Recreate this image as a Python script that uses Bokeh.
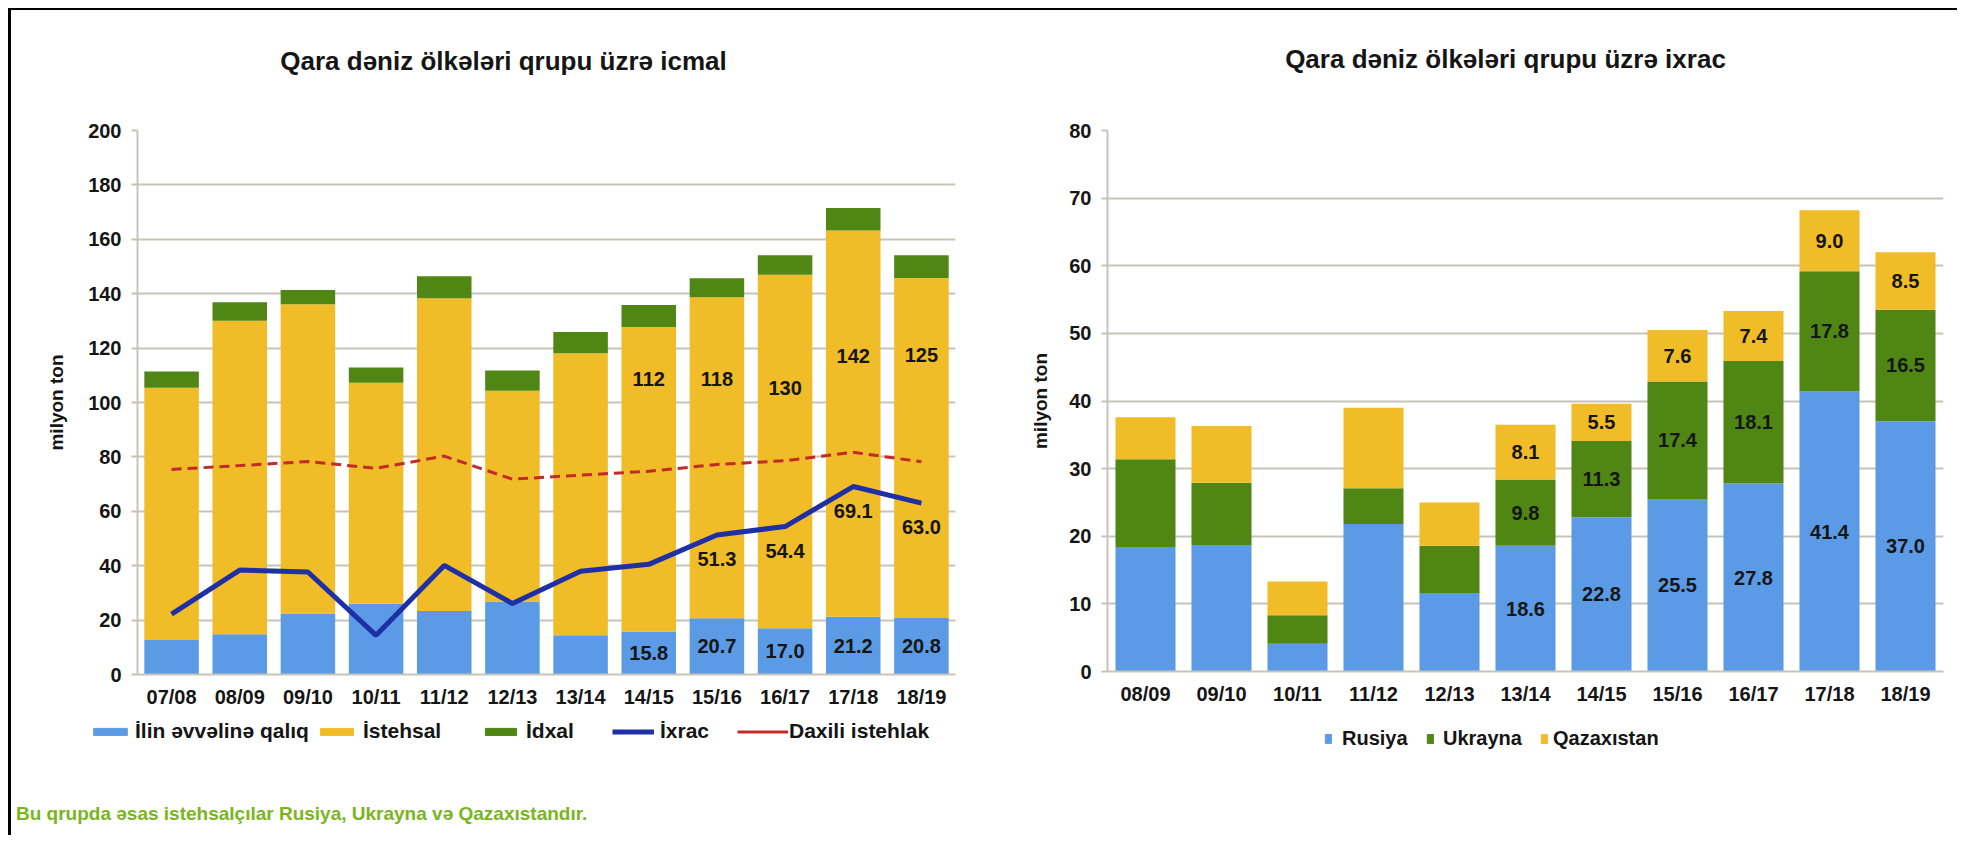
from bokeh.plotting import figure
from bokeh.models import (ColumnDataSource, Legend, LegendItem, Div,
                          SingleIntervalTicker, Range1d)
from bokeh.layouts import row, column
from bokeh.embed import file_html
from bokeh.resources import INLINE
from bokeh.core.properties import value

FONT = "Liberation Sans"

# ---------------- data: left chart (group balance) ----------------
seasons_group = ["07/08", "08/09", "09/10", "10/11", "11/12", "12/13",
                 "13/14", "14/15", "15/16", "16/17", "17/18", "18/19"]
opening_stocks = [12.7, 14.8, 22.4, 26.0, 23.3, 26.8, 14.4, 15.8, 20.7, 17.0, 21.2, 20.8]
production = [92.7, 115.3, 113.7, 81.3, 115.0, 77.5, 103.7, 112, 118, 130, 142, 125]
imports = [6.0, 6.8, 5.3, 5.6, 8.1, 7.5, 7.8, 8.0, 7.0, 7.1, 8.3, 8.3]
exports = [22.2, 38.4, 37.7, 14.4, 40.1, 26.1, 38.0, 40.5, 51.3, 54.4, 69.1, 63.0]
consumption = [75.4, 76.8, 78.3, 75.8, 80.3, 71.8, 73.3, 74.7, 77.2, 78.6, 81.7, 78.2]
# which seasons carry value labels
stock_labelled = ["14/15", "15/16", "16/17", "17/18", "18/19"]
export_labelled = ["15/16", "16/17", "17/18", "18/19"]
# anchor heights (data units) of the production labels
prod_label_at = [108.5, 108.5, 105.4, 117.0, 117.4]

# ---------------- data: right chart (exports by country) ----------------
seasons_exp = ["08/09", "09/10", "10/11", "11/12", "12/13", "13/14",
               "14/15", "15/16", "16/17", "17/18", "18/19"]
russia = [18.4, 18.7, 4.1, 21.8, 11.6, 18.6, 22.8, 25.5, 27.8, 41.4, 37.0]
ukraine = [13.0, 9.2, 4.2, 5.3, 7.0, 9.8, 11.3, 17.4, 18.1, 17.8, 16.5]
kazakhstan = [6.2, 8.4, 5.0, 11.9, 6.4, 8.1, 5.5, 7.6, 7.4, 9.0, 8.5]
exp_labelled = ["13/14", "14/15", "15/16", "16/17", "17/18", "18/19"]

# ---------------- styles ----------------
BLUE = "#5B9BE6"
YELLOW = "#F0BC27"
GREEN = "#4F8614"
NAVY = "#1F2FA5"
RED = "#C32A2A"
GRID = "#C8C3B8"
TXT = "#151515"
FOOT = "#7AB51D"


def style_axes(p, step, label_standoff):
    tick = SingleIntervalTicker(interval=step)
    p.yaxis.ticker = tick
    p.ygrid.ticker = tick
    p.xgrid.grid_line_color = None
    p.ygrid.grid_line_color = GRID
    p.ygrid.grid_line_width = 2
    p.axis.axis_line_color = GRID
    p.axis.axis_line_width = 2
    p.yaxis.major_tick_line_color = GRID
    p.yaxis.major_tick_line_width = 2
    p.yaxis.major_tick_out = 6
    p.yaxis.major_tick_in = 0
    p.xaxis.major_tick_line_color = None
    p.xaxis.major_tick_out = 0
    p.xaxis.major_tick_in = 0
    p.axis.minor_tick_line_color = None
    p.axis.major_label_text_font = FONT
    p.axis.major_label_text_font_style = "bold"
    p.axis.major_label_text_font_size = "20px"
    p.axis.major_label_text_color = TXT
    p.xaxis.major_label_standoff = 11
    p.yaxis.major_label_standoff = 10
    p.yaxis.axis_label = "milyon ton"
    p.yaxis.axis_label_text_font = FONT
    p.yaxis.axis_label_text_font_style = "bold"
    p.yaxis.axis_label_text_font_size = "19px"
    p.yaxis.axis_label_text_color = TXT
    p.yaxis.axis_label_standoff = label_standoff


def add_text(p, src, **kw):
    p.text(x="x", y="y", text="t", source=src, text_font=value(FONT),
           text_font_style="bold", text_font_size="20px", text_color=TXT,
           text_align="center", text_baseline="middle", **kw)


def title_div(text, width, height, margin):
    return Div(text=text, width=width, height=height, margin=margin,
               styles={"text-align": "center", "font-family": FONT,
                       "font-weight": "bold", "font-size": "26px",
                       "line-height": "30px", "color": TXT})


# ================= left figure =================
p1 = figure(x_range=seasons_group, y_range=Range1d(0, 200),
            frame_width=818, frame_height=544,
            min_border_left=126, min_border_right=41,
            min_border_top=38, min_border_bottom=42,
            output_backend="svg", toolbar_location=None,
            outline_line_color=None, background_fill_color="white")
style_axes(p1, 20, 18)

src1 = ColumnDataSource(dict(x=seasons_group, opening=opening_stocks,
                             production=production, imports=imports,
                             exports=exports, consumption=consumption))
p1.vbar_stack(["opening", "production", "imports"], x="x", width=0.8,
              color=[BLUE, YELLOW, GREEN], line_color=None, source=src1)
p1.line("x", "exports", source=src1, line_color=NAVY, line_width=5)
p1.line("x", "consumption", source=src1, line_color=RED,
        line_width=3, line_dash="10 6")

idx = [seasons_group.index(s) for s in stock_labelled]
add_text(p1, ColumnDataSource(dict(
    x=stock_labelled,
    y=[opening_stocks[i] / 2 for i in idx],
    t=[f"{opening_stocks[i]:.1f}" for i in idx])))
add_text(p1, ColumnDataSource(dict(
    x=stock_labelled, y=prod_label_at,
    t=[f"{production[i]:.0f}" for i in idx])))
idx_e = [seasons_group.index(s) for s in export_labelled]
add_text(p1, ColumnDataSource(dict(
    x=export_labelled, y=[exports[i] for i in idx_e],
    t=[f"{exports[i]:.1f}" for i in idx_e])), y_offset=24)

# ================= right figure =================
p2 = figure(x_range=seasons_exp, y_range=Range1d(0, 80),
            frame_width=836, frame_height=541,
            min_border_left=111, min_border_right=14,
            min_border_top=48, min_border_bottom=35,
            output_backend="svg", toolbar_location=None,
            outline_line_color=None, background_fill_color="white")
style_axes(p2, 10, 15)

src2 = ColumnDataSource(dict(x=seasons_exp, rus=russia, ukr=ukraine, kaz=kazakhstan))
p2.vbar_stack(["rus", "ukr", "kaz"], x="x", width=0.79,
              color=[BLUE, GREEN, YELLOW], line_color=None, source=src2)

ids = [seasons_exp.index(s) for s in exp_labelled]
lx, ly, lt = [], [], []
for i in ids:
    base = 0.0
    for series in (russia, ukraine, kazakhstan):
        lx.append(seasons_exp[i])
        ly.append(base + series[i] / 2)
        lt.append(f"{series[i]:.1f}")
        base += series[i]
add_text(p2, ColumnDataSource(dict(x=lx, y=ly, t=lt)))

# ================= legend strip =================
# key glyphs only: one off-screen sample each, so the legend can draw its swatch
lg = figure(width=1946, height=50, x_range=Range1d(0, 1), y_range=Range1d(0, 1),
            x_axis_type=None, y_axis_type=None,
            min_border=0, output_backend="svg", toolbar_location=None,
            outline_line_color=None, background_fill_color="white")
lg.xgrid.grid_line_color = None
lg.ygrid.grid_line_color = None
off = dict(x=[-5, -4], y=[-5, -5])
k_blue = lg.vbar(x=off["x"][:1], top=off["y"][:1], width=1, color=BLUE)
k_yellow = lg.vbar(x=off["x"][:1], top=off["y"][:1], width=1, color=YELLOW)
k_green = lg.vbar(x=off["x"][:1], top=off["y"][:1], width=1, color=GREEN)
k_exp = lg.line(x=off["x"], y=off["y"], line_color=NAVY, line_width=5)
k_cons = lg.line(x=off["x"], y=off["y"], line_color=RED, line_width=3)


def key(label, rend, x, y, gw, gh, standoff, size):
    lg.add_layout(Legend(
        items=[LegendItem(label=label, renderers=[rend])],
        location=(x, y), orientation="horizontal", padding=0, margin=0,
        glyph_width=gw, glyph_height=gh, label_standoff=standoff,
        label_text_font=FONT, label_text_font_style="bold",
        label_text_font_size=size, label_text_color=TXT,
        border_line_color=None, background_fill_alpha=0))


key("İlin əvvəlinə qalıq", k_blue, 78, 14, 42, 9, 4, "21px")
key("İstehsal", k_yellow, 305, 14, 41, 9, 6, "21px")
key("İdxal", k_green, 470, 14, 39, 9, 6, "21px")
key("İxrac", k_exp, 601, 14, 42, 9, 6, "21px")
key("Daxili istehlak", k_cons, 726, 14, 51, 9, 1, "21px")

key("Rusiya", k_blue, 1313, 7, 8, 11, 10, "20px")
key("Ukrayna", k_green, 1415, 7, 8, 11, 9, "20px")
key("Qazaxıstan", k_yellow, 1529, 7, 8, 11, 5, "20px")

# ================= titles and footnote =================
t_left = title_div("Qara dəniz ölkələri qrupu üzrə icmal", 985, 36, (36, 0, 0, 0))
t_right = title_div("Qara dəniz ölkələri qrupu üzrə ixrac", 903, 38, (34, 0, 0, 58))
footer = Div(text="Bu qrupda əsas istehsalçılar Rusiya, Ukrayna və Qazaxıstandır.",
             width=985, height=22, margin=(46, 0, 10, 5),
             styles={"font-family": FONT, "font-weight": "bold",
                     "font-size": "19px", "line-height": "22px",
                     "color": FOOT})

layout = column(row(t_left, t_right), row(p1, p2), lg, footer,
                margin=(8, 0, 0, 8),
                styles={"border-top": "2px solid black",
                        "border-left": "3px solid black"})

open("out.html", "w").write(file_html(layout, INLINE))
